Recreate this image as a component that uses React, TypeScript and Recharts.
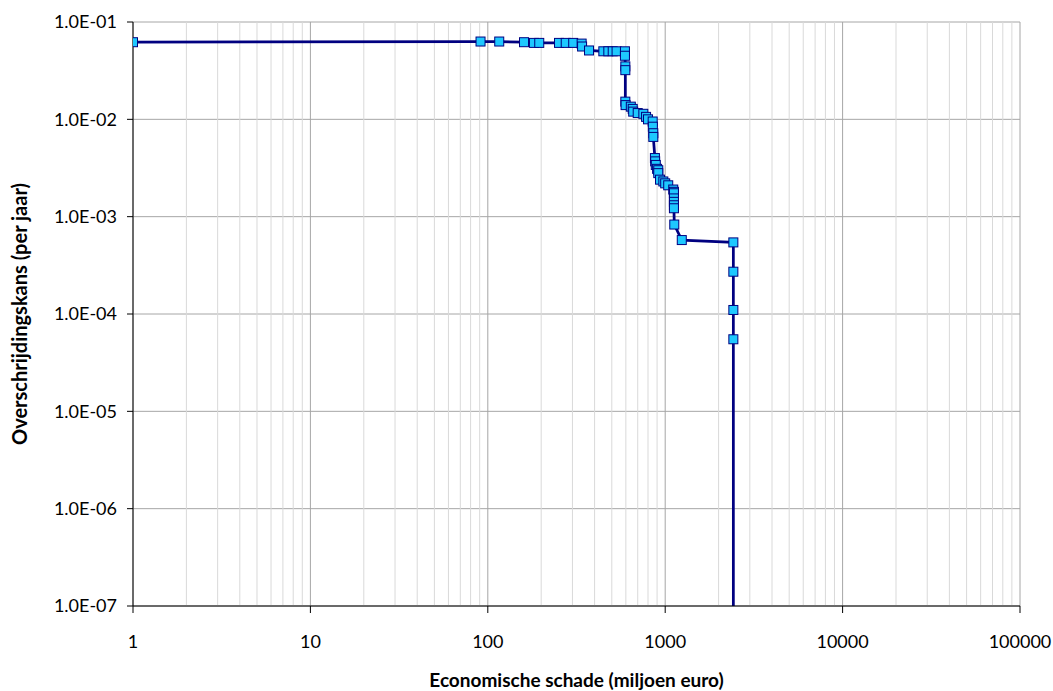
import React from 'react';
import { LineChart, Line, XAxis, YAxis, CartesianGrid, ReferenceLine, Label } from 'recharts';

const damage = [1, 91, 116, 160, 182, 195, 252, 275, 303, 338, 340, 372, 448, 478, 506, 532, 593, 593, 596, 596, 596, 598, 640, 656, 660, 700, 753, 780, 800, 850, 852, 857, 857, 875, 878, 885, 900, 914, 914, 935, 976, 1000, 1040, 1110, 1120, 1120, 1120, 1120, 1120, 1120, 1125, 1240, 2422, 2422, 2422, 2422, 2422];
const prob = [0.062, 0.063, 0.063, 0.062, 0.061, 0.061, 0.061, 0.061, 0.061, 0.060, 0.056, 0.051, 0.050, 0.050, 0.050, 0.050, 0.050, 0.045, 0.035, 0.032, 0.0152, 0.0140, 0.0135, 0.0128, 0.0120, 0.0116, 0.0114, 0.0106, 0.0100, 0.0095, 0.0084, 0.0072, 0.0066, 0.0040, 0.0037, 0.0034, 0.0031, 0.0030, 0.0028, 0.0024, 0.0023, 0.0022, 0.0021, 0.0019, 0.0018, 0.00174, 0.00154, 0.00142, 0.00131, 0.00122, 0.00083, 0.000575, 0.000544, 0.000272, 0.000110, 0.000055, 1e-7];
const markerShown = damage.map((_, i) => i < damage.length - 1);

const xTicks = [1, 10, 100, 1000, 10000, 100000];
const yTicks = [1e-7, 1e-6, 1e-5, 1e-4, 1e-3, 1e-2, 1e-1];
const minorMultipliers = [2, 3, 4, 5, 6, 7, 8, 9];
const minorDecades = [1, 10, 100, 1000, 10000];
const xMinor = minorDecades.flatMap((d) => minorMultipliers.map((m) => m * d));

const data = damage.map((x, i) => ({ x, p: prob[i], show: markerShown[i] }));

const FONT = 'Lato, "Open Sans", sans-serif';

const fmtY = (v: number) => {
  const e = Math.round(Math.log10(v));
  return `1.0E-${String(-e).padStart(2, '0')}`;
};

const SquareDot = (props: any) => {
  const { cx, cy, index, payload } = props;
  if (!payload || !payload.show || cx == null || cy == null) return <g key={`d${index}`} />;
  return <rect key={`d${index}`} x={cx - 4.5} y={cy - 4.5} width={9} height={9} fill="#1EC8FF" stroke="#000080" strokeWidth={1} />;
};

export default function App() {
  return (
    <div style={{ position: 'absolute', left: 0, top: 0, width: 1053, height: 691, background: '#fff' }}>
      <LineChart width={1053} height={691} data={data} margin={{ top: 22, right: 33, bottom: 0, left: 0 }}>
        <CartesianGrid stroke="#A6A6A6" strokeWidth={1} />
        {xMinor.map((v) => (
          <ReferenceLine key={v} x={v} stroke="#D9D9D9" strokeWidth={1} ifOverflow="hidden" />
        ))}
        <XAxis
          dataKey="x"
          type="number"
          scale="log"
          domain={[1, 100000]}
          ticks={xTicks}
          allowDataOverflow
          height={85}
          tickSize={7}
          tickMargin={22}
          stroke="#000"
          tick={{ fill: '#000', fontSize: 18, fontFamily: FONT }}
          tickFormatter={(v: number) => String(v)}
        >
          <Label value="Economische schade (miljoen euro)" position="insideBottom" offset={4} style={{ fontFamily: FONT, fontSize: 19, fontWeight: 'bold', fill: '#000' }} />
        </XAxis>
        <YAxis
          dataKey="p"
          type="number"
          scale="log"
          domain={[1e-7, 1e-1]}
          ticks={yTicks}
          allowDataOverflow
          width={133}
          tickSize={6}
          tickMargin={10}
          stroke="#000"
          tick={{ fill: '#000', fontSize: 18, fontFamily: FONT }}
          tickFormatter={fmtY}
        >
          <Label value="Overschrijdingskans (per jaar)" angle={-90} position="center" dx={-47} style={{ fontFamily: FONT, fontSize: 20, fontWeight: 'bold', fill: '#000' }} />
        </YAxis>
        <Line dataKey="p" type="linear" stroke="#000080" strokeWidth={2.75} dot={SquareDot} activeDot={false} isAnimationActive={false} />
      </LineChart>
    </div>
  );
}
